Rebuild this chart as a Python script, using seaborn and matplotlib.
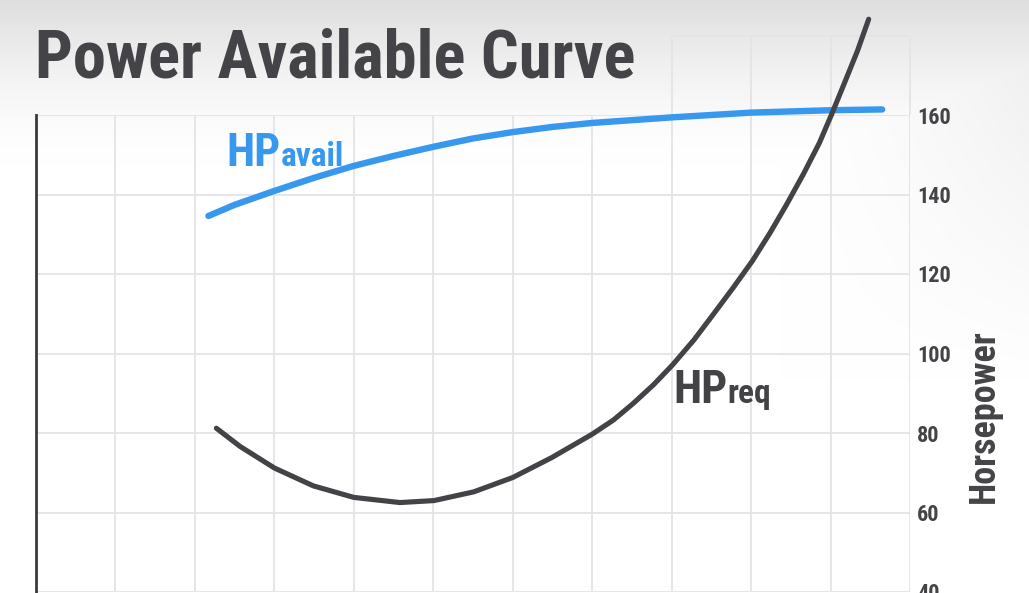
"""
Power available vs. power required curves (HP vs. airspeed).

Outputs:
    out.png
"""

import numpy as np
import pandas as pd
import matplotlib
matplotlib.use("Agg")
import matplotlib.pyplot as plt
from matplotlib import font_manager
import seaborn as sns


# values (x in grid units, y in horsepower)
avail_x = [2.17, 2.5, 3.0, 3.5, 4.0, 4.5, 5.0, 5.5, 6.0, 6.5, 7.0, 8.0, 9.0, 10.0, 10.65]
avail_hp = [134.6, 137.4, 140.9, 144.2, 147.2, 149.7, 152.0, 154.1, 155.7, 157.0, 158.0, 159.4, 160.6, 161.2, 161.4]

req_x = [2.27, 2.57, 3.0, 3.49, 4.0, 4.58, 5.01, 5.51, 6.0, 6.49, 7.0, 7.27, 7.52, 7.77,
         8.01, 8.28, 8.53, 8.78, 9.02, 9.24, 9.45, 9.66, 9.86, 10.01, 10.17, 10.34, 10.48]
req_hp = [81.2, 76.6, 71.2, 66.7, 63.8, 62.5, 63.0, 65.2, 68.8, 73.8, 79.7, 83.3, 87.5, 92.1,
          97.1, 103.4, 110.0, 116.7, 123.4, 130.4, 137.6, 145.2, 153.0, 160.0, 167.8, 176.2, 184.1]

y_ticks = [40, 60, 80, 100, 120, 140, 160]
x_grid = list(range(0, 12))

TITLE = "Power Available Curve"
Y_LABEL = "Horsepower"

BLUE = "#3798ee"
DARK = "#434347"
TEXT = "#444448"
GRID = "#e4e4e6"

W_PX, H_PX = 1029, 593


def pick_font() -> str:
    names = {f.name for f in font_manager.fontManager.ttflist}
    for name in ["Roboto Condensed", "Liberation Sans Narrow", "Liberation Sans", "DejaVu Sans"]:
        if name in names:
            return name
    return "DejaVu Sans"


def px(x, y):
    # pixel position (from top-left) -> figure fraction
    return x / W_PX, 1 - y / H_PX


def draw_background(fig):
    bg = fig.add_axes([0, 0, 1, 1], zorder=-10)
    yy, xx = np.mgrid[0:H_PX, 0:W_PX].astype(float)
    top = 0.13 * np.clip(1 - yy / 165, 0, 1) ** 1.6
    right = 0.07 * np.clip((xx - 780) / 250, 0, 1) ** 1.3 * np.clip(1 - yy / 380, 0, 1)
    g = 1 - np.maximum(top, right)
    bg.imshow(np.dstack([g, g, np.clip(g * 1.004, 0, 1)]), aspect="auto",
              extent=[0, 1, 0, 1])
    bg.axis("off")


def label_with_sub(fig, x, y, big, small, color, big_size, small_size):
    t = fig.text(*px(x, y), big, color=color, fontsize=big_size, fontweight="bold",
                 ha="left", va="baseline")
    fig.canvas.draw()
    bb = t.get_window_extent()
    fig.text(bb.x1 / W_PX, 1 - y / H_PX, small, color=color, fontsize=small_size,
             fontweight="bold", ha="left", va="baseline")


def main():
    sns.set_theme(style="whitegrid")
    font = pick_font()
    plt.rcParams["font.family"] = [font, "DejaVu Sans"]

    fig = plt.figure(figsize=(W_PX / 100, H_PX / 100), dpi=100)
    draw_background(fig)

    left, right = 36 / W_PX, 910 / W_PX
    bottom, top = 1 / H_PX, (H_PX - 115) / H_PX
    ax = fig.add_axes([left, bottom, right - left, top - bottom])
    ax.set_facecolor("none")

    avail = pd.DataFrame({"x": avail_x, "hp": avail_hp})
    req = pd.DataFrame({"x": req_x, "hp": req_hp})

    sns.lineplot(data=avail, x="x", y="hp", color=BLUE, linewidth=4.6, sort=False,
                 estimator=None, ax=ax, zorder=5)
    sns.lineplot(data=req, x="x", y="hp", color=DARK, linewidth=3.7, sort=False,
                 estimator=None, ax=ax, zorder=6)
    for line in ax.lines:
        line.set_solid_capstyle("round")
        line.set_solid_joinstyle("round")
        line.set_clip_on(False)

    ax.set_xlim(0, 11)
    ax.set_ylim(40, 160)
    ax.set_xticks(x_grid)
    ax.set_xticklabels([])
    ax.set_yticks(y_ticks)
    ax.set_yticklabels([str(v) for v in y_ticks])
    ax.yaxis.tick_right()
    ax.tick_params(axis="both", length=0)
    ax.tick_params(axis="y", pad=5, labelsize=16, labelcolor=TEXT)
    for lab in ax.get_yticklabels():
        lab.set_fontweight("bold")
    ax.set_xlabel("")
    ax.grid(True, color=GRID, linewidth=1.3)
    ax.set_axisbelow(True)

    # grid continues above the plot on the right, next to the title
    ax.vlines([8, 9, 10, 11], 160, 180, color=GRID, linewidth=1.3, clip_on=False, zorder=0.5)
    ax.hlines(180, 8, 11, color=GRID, linewidth=1.3, clip_on=False, zorder=0.5)
    ax.vlines([11], 40, 160, color=GRID, linewidth=1.3, zorder=0.5)

    for side in ["top", "right", "bottom"]:
        ax.spines[side].set_visible(False)
    ax.spines["left"].set_color("#3a3a3e")
    ax.spines["left"].set_linewidth(2)

    ax.yaxis.set_label_position("right")
    ax.set_ylabel(Y_LABEL, fontsize=26, fontweight="bold", color=TEXT)
    ax.yaxis.set_label_coords(1.064, 0.369)

    fig.text(*px(35, 77), TITLE, fontsize=48, fontweight="bold", color=TEXT,
             ha="left", va="baseline")

    label_with_sub(fig, 226, 166, "HP", "avail", BLUE, 33, 24)
    label_with_sub(fig, 673, 403, "HP", "req", DARK, 33, 24)

    print("font:", font)
    fig.savefig("out.png", dpi=100)
    plt.close(fig)


if __name__ == "__main__":
    main()
